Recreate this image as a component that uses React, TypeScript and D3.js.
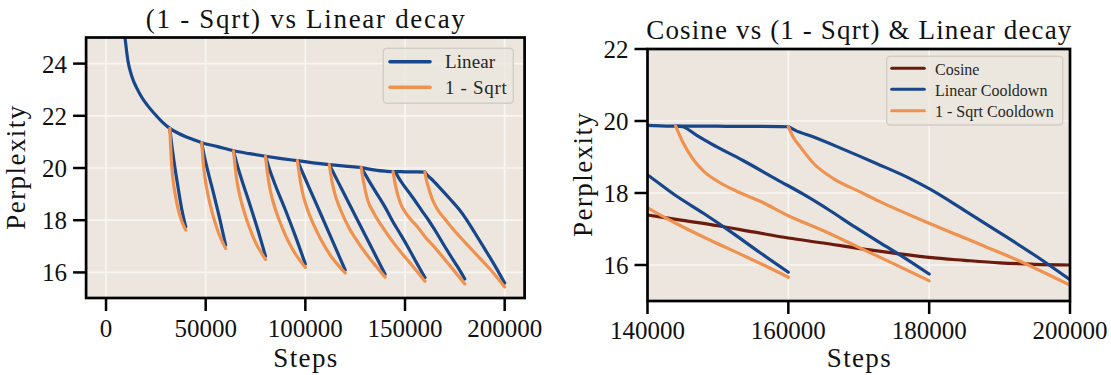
import React from "react";
import * as d3 from "d3";

type Pt = [number, number];

// ---------- DATA ----------
// Constant-LR trunk of the "Linear" run (continues into the last linear cooldown)
const trunk: Pt[] = [
  [8700, 25.5], [9500, 25.0], [11000, 24.1], [13000, 23.5], [15500, 23.05], [18000, 22.7],
  [21000, 22.38], [25000, 22.02], [28000, 21.78], [32000, 21.52], [36000, 21.34], [40000, 21.2],
  [44000, 21.08], [48000, 20.97], [56000, 20.82], [64000, 20.66], [72000, 20.55], [80000, 20.45],
  [88000, 20.36], [96000, 20.28], [104000, 20.2], [112000, 20.13], [120000, 20.07], [128000, 20.02],
  [132000, 19.96], [136000, 19.91], [140000, 19.88], [144000, 19.86], [148000, 19.86],
  [152000, 19.85], [156000, 19.85], [160000, 19.84],
];

// Linear cooldowns (blue)
const linear40k: Pt[] = [[32000, 21.52], [32800, 20.99], [34000, 20.31], [36000, 19.33], [38000, 18.42], [40000, 17.74]];
const linear60k: Pt[] = [[48000, 20.97], [49200, 20.5], [51000, 19.91], [54000, 19.01], [57000, 18.07], [60000, 17.05]];
const linear80k: Pt[] = [[64000, 20.66], [65600, 20.18], [68000, 19.57], [72000, 18.64], [76000, 17.67], [80000, 16.62]];
const linear100k: Pt[] = [[80000, 20.45], [82000, 19.95], [85000, 19.33], [90000, 18.39], [95000, 17.39], [100000, 16.32]];
const linear120k: Pt[] = [[96000, 20.28], [98400, 19.86], [102000, 19.23], [108000, 18.19], [114000, 17.14], [120000, 16.09]];
const linear140k: Pt[] = [[112000, 20.13], [114800, 19.71], [119000, 19.08], [126000, 18.03], [133000, 16.98], [140000, 15.93]];
const linear160k: Pt[] = [[128000, 20.02], [132000, 19.5], [136000, 19.0], [140000, 18.5], [144000, 17.93], [148000, 17.43], [152000, 16.9], [156000, 16.34], [160000, 15.8]];
const linear180k: Pt[] = [[144000, 19.86], [145000, 19.84], [147000, 19.6], [149000, 19.37], [153500, 18.91], [158500, 18.36], [162000, 17.98], [166000, 17.5], [169500, 17.05], [173000, 16.62], [176500, 16.2], [180000, 15.75]];
const linear200k: Pt[] = [[160000, 19.84], [161000, 19.74], [163500, 19.56], [167500, 19.24], [172500, 18.82], [177500, 18.38], [180000, 18.12], [185000, 17.52], [190000, 16.9], [195000, 16.27], [200000, 15.59]];

// 1 - Sqrt cooldowns (orange)
const sqrt40k: Pt[] = [[32000, 21.52], [32400, 20.82], [32800, 20.27], [33600, 19.57], [34800, 18.95], [36000, 18.48], [37600, 18.05], [38800, 17.81], [40000, 17.62]];
const sqrt60k: Pt[] = [[48000, 20.97], [48600, 20.36], [49200, 19.88], [50400, 19.27], [52200, 18.62], [54000, 18.09], [56400, 17.53], [58200, 17.2], [60000, 16.92]];
const sqrt80k: Pt[] = [[64000, 20.66], [64800, 20.04], [65600, 19.54], [67200, 18.91], [69600, 18.25], [72000, 17.71], [75200, 17.12], [77600, 16.79], [80000, 16.5]];
const sqrt100k: Pt[] = [[80000, 20.45], [81000, 19.81], [82000, 19.3], [84000, 18.66], [87000, 17.98], [90000, 17.43], [94000, 16.83], [97000, 16.49], [100000, 16.19]];
const sqrt120k: Pt[] = [[96000, 20.28], [97200, 19.64], [98400, 19.12], [100800, 18.47], [104400, 17.79], [108000, 17.23], [112800, 16.63], [116400, 16.28], [120000, 15.98]];
const sqrt140k: Pt[] = [[112000, 20.13], [113400, 19.48], [114800, 19.01], [117600, 18.41], [121800, 17.72], [126000, 17.2], [131600, 16.6], [135800, 16.21], [140000, 15.82]];
const sqrt160k: Pt[] = [[128000, 20.02], [129600, 19.31], [131200, 18.79], [134400, 18.27], [140000, 17.59], [144000, 17.16], [149000, 16.68], [154000, 16.23], [157000, 15.95], [160000, 15.66]];
const sqrt180k: Pt[] = [[144000, 19.86], [145100, 19.38], [146500, 18.93], [148000, 18.6], [150000, 18.32], [153000, 18.02], [156000, 17.77], [160000, 17.37], [165000, 16.95], [170000, 16.49], [175000, 16.03], [180000, 15.56]];
const sqrt200k: Pt[] = [[160000, 19.84], [160700, 19.55], [161700, 19.28], [163600, 18.82], [166400, 18.4], [170200, 18.03], [173000, 17.76], [180000, 17.16], [187500, 16.55], [192500, 16.14], [200000, 15.44]];

// Cosine schedule run (right panel)
const cosine: Pt[] = [
  [140000, 17.39], [145000, 17.24], [150000, 17.09], [155000, 16.92], [160000, 16.75], [165000, 16.61],
  [170000, 16.46], [175000, 16.33], [180000, 16.21], [185000, 16.13], [190000, 16.06], [195000, 16.02], [200000, 16.0],
];

const leftLinear: Pt[][] = [trunk, linear40k, linear60k, linear80k, linear100k, linear120k, linear140k, linear160k, linear180k, linear200k];
const leftSqrt: Pt[][] = [sqrt40k, sqrt60k, sqrt80k, sqrt100k, sqrt120k, sqrt140k, sqrt160k, sqrt180k, sqrt200k];
const rightLinear: Pt[][] = [trunk, linear160k, linear180k, linear200k];
const rightSqrt: Pt[][] = [sqrt160k, sqrt180k, sqrt200k];

const leftXTicks = [0, 50000, 100000, 150000, 200000];
const leftYTicks = [16, 18, 20, 22, 24];
const rightXTicks = [140000, 160000, 180000, 200000];
const rightYTicks = [16, 18, 20, 22];

const leftTitle = "(1 - Sqrt) vs Linear decay";
const rightTitle = "Cosine vs (1 - Sqrt) & Linear decay";
const xLabel = "Steps";
const yLabel = "Perplexity";
const leftLegend = ["Linear", "1 - Sqrt"];
const rightLegend = ["Cosine", "Linear Cooldown", "1 - Sqrt Cooldown"];

// ---------- STYLE ----------
const FONT = "Liberation Serif, DejaVu Serif, serif";
const BG = "#ECE6DE";
const GRID = "#F8F6F3";
const BLUE = "#17468B";
const ORANGE = "#F0924F";
const DARKRED = "#6C1A0C";
const TEXT = "#111111";

type Series = { data: Pt[]; color: string };
type LegendRow = { label: string; color: string; hy: number; ty: number; tl?: number };
type LegendSpec = {
  x: number; y: number; w: number; h: number;
  hx0: number; hx1: number; tx: number; fs: number; lw: number; rows: LegendRow[];
};

type PanelProps = {
  id: string;
  left: number; right: number; top: number; bottom: number;
  xDomain: [number, number]; yDomain: [number, number];
  xTicks: number[]; yTicks: number[];
  title: string; titleY: number; titleLen: number;
  xTickLabelY: number; xLabelY: number; yLabelX: number;
  series: Series[];
  legend: LegendSpec;
};

function Panel(p: PanelProps) {
  const x = d3.scaleLinear().domain(p.xDomain).range([p.left, p.right]);
  const y = d3.scaleLinear().domain(p.yDomain).range([p.bottom, p.top]);
  const line = d3
    .line<Pt>()
    .x((d) => x(d[0]))
    .y((d) => y(d[1]))
    .curve(d3.curveMonotoneX);
  const cx = (p.left + p.right) / 2;
  const cy = (p.top + p.bottom) / 2;
  const tickLen = 13;
  const fmt = d3.format("d");
  const inX = (v: number) => v > p.xDomain[0] && v < p.xDomain[1];
  const inY = (v: number) => v > p.yDomain[0] && v < p.yDomain[1];
  const L = p.legend;
  return (
    <g>
      <defs>
        <clipPath id={p.id}>
          <rect x={p.left} y={p.top} width={p.right - p.left} height={p.bottom - p.top} />
        </clipPath>
      </defs>
      <rect x={p.left} y={p.top} width={p.right - p.left} height={p.bottom - p.top} fill={BG} />
      {p.xTicks.filter(inX).map((t) => (
        <line key={"gx" + t} x1={x(t)} x2={x(t)} y1={p.top} y2={p.bottom} stroke={GRID} strokeWidth={1.7} />
      ))}
      {p.yTicks.filter(inY).map((t) => (
        <line key={"gy" + t} x1={p.left} x2={p.right} y1={y(t)} y2={y(t)} stroke={GRID} strokeWidth={1.7} />
      ))}
      <g clipPath={`url(#${p.id})`}>
        {p.series.map((s, i) => (
          <path key={i} d={line(s.data) || ""} fill="none" stroke={s.color} strokeWidth={3.2}
            strokeLinejoin="round" strokeLinecap="round" />
        ))}
      </g>
      <rect x={L.x} y={L.y} width={L.w} height={L.h} rx={3.5} fill={BG} fillOpacity={0.85}
        stroke="#D1CDC7" strokeWidth={1.4} />
      {L.rows.map((r) => (
        <g key={r.label}>
          <line x1={L.hx0} x2={L.hx1} y1={r.hy} y2={r.hy} stroke={r.color} strokeWidth={L.lw} strokeLinecap="round" />
          <text x={L.tx} y={r.ty} fontFamily={FONT} fontSize={L.fs} fill="#262626"
            {...(r.tl ? { textLength: r.tl, lengthAdjust: "spacing" } : {})}>
            {r.label}
          </text>
        </g>
      ))}
      <rect x={p.left} y={p.top} width={p.right - p.left} height={p.bottom - p.top} fill="none"
        stroke="#000" strokeWidth={2.7} />
      {p.xTicks.map((t) => (
        <g key={"xt" + t}>
          <line x1={x(t)} x2={x(t)} y1={p.bottom} y2={p.bottom + tickLen} stroke="#000" strokeWidth={2.5} />
          <text x={x(t)} y={p.xTickLabelY} textAnchor="middle" fontFamily={FONT} fontSize={25} fill={TEXT}>
            {fmt(t)}
          </text>
        </g>
      ))}
      {p.yTicks.map((t) => (
        <g key={"yt" + t}>
          <line x1={p.left - tickLen} x2={p.left} y1={y(t)} y2={y(t)} stroke="#000" strokeWidth={2.5} />
          <text x={p.left - 19} y={y(t) + 9} textAnchor="end" fontFamily={FONT} fontSize={25} fill={TEXT}>
            {fmt(t)}
          </text>
        </g>
      ))}
      <text x={cx} y={p.titleY} textAnchor="middle" fontFamily={FONT} fontSize={27} fill={TEXT}
        textLength={p.titleLen} lengthAdjust="spacing">
        {p.title}
      </text>
      <text x={cx} y={p.xLabelY} textAnchor="middle" fontFamily={FONT} fontSize={27} fill={TEXT}
        textLength={64} lengthAdjust="spacing">
        {xLabel}
      </text>
      <text transform={`translate(${p.yLabelX},${cy}) rotate(-90)`} textAnchor="middle" fontFamily={FONT}
        fontSize={27} fill={TEXT} textLength={124} lengthAdjust="spacing">
        {yLabel}
      </text>
    </g>
  );
}

export default function App() {
  const leftSeries: Series[] = [
    ...leftLinear.map((d) => ({ data: d, color: BLUE })),
    ...leftSqrt.map((d) => ({ data: d, color: ORANGE })),
  ];
  const rightSeries: Series[] = [
    { data: cosine, color: DARKRED },
    ...rightLinear.map((d) => ({ data: d, color: BLUE })),
    ...rightSqrt.map((d) => ({ data: d, color: ORANGE })),
  ];
  return (
    <svg width={1111} height={375} viewBox="0 0 1111 375"
      style={{ position: "absolute", left: 0, top: 0, background: "#fff" }}>
      <Panel
        id="clipL"
        left={86.1} right={524.6} top={37.5} bottom={298}
        xDomain={[-10000, 210000]} yDomain={[15.02, 25]}
        xTicks={leftXTicks} yTicks={leftYTicks}
        title={leftTitle} titleY={27.6} titleLen={319}
        xTickLabelY={337.3} xLabelY={367} yLabelX={25.3}
        series={leftSeries}
        legend={{
          x: 383.3, y: 48.3, w: 130, h: 55, hx0: 390, hx1: 430, tx: 445, fs: 19, lw: 3.6,
          rows: [
            { label: leftLegend[0], color: BLUE, hy: 61.7, ty: 68.3, tl: 50 },
            { label: leftLegend[1], color: ORANGE, hy: 87.3, ty: 94, tl: 61.7 },
          ],
        }}
      />
      <Panel
        id="clipR"
        left={647.5} right={1070} top={49} bottom={301}
        xDomain={[140000, 200000]} yDomain={[15, 22]}
        xTicks={rightXTicks} yTicks={rightYTicks}
        title={rightTitle} titleY={39.3} titleLen={425}
        xTickLabelY={338.5} xLabelY={367} yLabelX={591.5}
        series={rightSeries}
        legend={{
          x: 886.7, y: 56.3, w: 176, h: 68.7, hx0: 891.7, hx1: 924.3, tx: 935, fs: 16, lw: 3,
          rows: [
            { label: rightLegend[0], color: DARKRED, hy: 68.3, ty: 74.5 },
            { label: rightLegend[1], color: BLUE, hy: 89.3, ty: 95.5 },
            { label: rightLegend[2], color: ORANGE, hy: 110.7, ty: 116.5 },
          ],
        }}
      />
    </svg>
  );
}
